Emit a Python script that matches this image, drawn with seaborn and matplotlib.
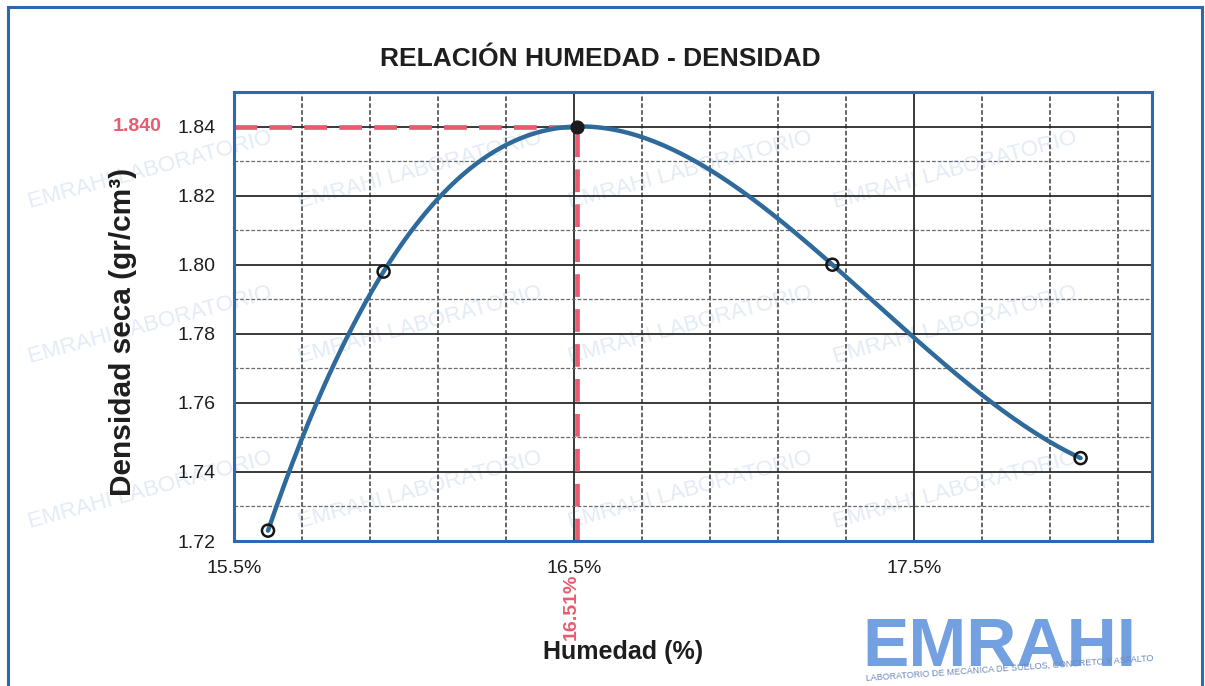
import numpy as np
import pandas as pd
import matplotlib
matplotlib.use("Agg")
import matplotlib.pyplot as plt
import seaborn as sns
from matplotlib.ticker import MultipleLocator, FixedLocator, FuncFormatter
from matplotlib.patches import Rectangle

# ---------------- data ----------------
humedad = [15.60, 15.94, 17.26, 17.99]          # %
densidad = [1.723, 1.798, 1.800, 1.744]         # gr/cm3
opt_humedad = 16.51                              # optimum moisture (%)
max_densidad = 1.840                             # max dry density
x_ticks = [15.5, 16.5, 17.5]
x_limits = [15.5, 18.2]
y_limits = [1.72, 1.85]

title = "RELACIÓN HUMEDAD - DENSIDAD"
x_label = "Humedad (%)"
y_label = "Densidad seca (gr/cm³)"
watermark = "EMRAHI LABORATORIO"

# ---------------- style ----------------
sns.set_theme(style="white")
plt.rcParams["font.family"] = ["Liberation Sans", "DejaVu Sans"]

BLUE_FRAME = "#2d68b3"
CURVE = "#2f6a9c"
RED = "#ea5a70"

fig = plt.figure(figsize=(12.05, 6.86), dpi=100)
fig.patch.set_facecolor("white")
ax = fig.add_axes([234 / 1205, 1 - 541 / 686, (1152 - 234) / 1205, (541 - 92) / 686])
ax.set_facecolor("none")

# faint watermark texts (behind the axes)
wm_rows = [170, 325, 490]
wm_cols = [150, 420, 690, 955]
for ry in wm_rows:
    for cx in wm_cols:
        fig.text(cx / 1205, 1 - ry / 686, watermark, rotation=15, ha="center", va="center",
                 fontsize=16, color="#e2ebf6", zorder=-5)

# outer frame
fig.add_artist(Rectangle((8 / 1205, -0.05), (1202 - 8) / 1205, 1 - 7 / 686 + 0.05,
                         transform=fig.transFigure, fill=False, edgecolor=BLUE_FRAME,
                         linewidth=2.2, clip_on=False))

# fitted curve (3rd order polynomial through the points)
coef = np.polyfit(humedad, densidad, 3)
xs = np.linspace(min(humedad), max(humedad), 400)
curve = pd.DataFrame({"x": xs, "y": np.polyval(coef, xs)})
sns.lineplot(data=curve, x="x", y="y", ax=ax, color=CURVE, linewidth=3.2, zorder=4)

# red dashed reference lines
ax.plot([x_limits[0], opt_humedad], [max_densidad, max_densidad], color=RED,
        linewidth=3.4, dashes=(4.8, 2.6), zorder=3, solid_capstyle="butt")
ax.plot([opt_humedad, opt_humedad], [y_limits[0], max_densidad], color=RED,
        linewidth=3.4, dashes=(4.8, 2.6), zorder=3)

# data points
pts = pd.DataFrame({"x": humedad, "y": densidad})
ax.scatter(pts["x"], pts["y"], s=75, facecolors="none", edgecolors="#151515",
           linewidths=1.8, zorder=5)
# optimum point
sns.scatterplot(x=[opt_humedad], y=[max_densidad], ax=ax, s=85, color="#1b1b1b",
                edgecolor="#1b1b1b", linewidth=1, zorder=6, legend=False)

# axes
ax.set_xlim(*x_limits)
ax.set_ylim(*y_limits)
ax.xaxis.set_major_locator(FixedLocator(x_ticks))
ax.xaxis.set_minor_locator(MultipleLocator(0.2, offset=0.1))
ax.yaxis.set_major_locator(MultipleLocator(0.02))
ax.yaxis.set_minor_locator(MultipleLocator(0.01))
ax.xaxis.set_major_formatter(FuncFormatter(lambda v, p: f"{v:.1f}%"))
ax.yaxis.set_major_formatter(FuncFormatter(lambda v, p: f"{v:.2f}"))

ax.grid(False)
ax.xaxis.grid(True, which="major", color="#2a2a2a", linewidth=1.3, linestyle="-")
ax.yaxis.grid(True, which="major", color="#2a2a2a", linewidth=1.3, linestyle="-")
ax.xaxis.grid(True, which="minor", color="#3a3a3a", linewidth=1.1, linestyle=(0, (3, 1.5)))
ax.yaxis.grid(True, which="minor", color="#6a6a6a", linewidth=0.9, linestyle=(0, (3, 1.5)))
ax.set_axisbelow(True)

ax.tick_params(axis="both", which="major", direction="out", length=5, width=1,
               color="#333333", labelsize=14, labelcolor="#1e1e1e")
ax.tick_params(axis="y", which="major", pad=8)
ax.tick_params(axis="x", which="major", pad=9)
ax.tick_params(which="minor", length=0)

for sp in ax.spines.values():
    sp.set_visible(True)
    sp.set_color(BLUE_FRAME)
    sp.set_linewidth(2.2)
    sp.set_zorder(7)

ax.set_xlabel(x_label, fontsize=18, fontweight="bold", color="#1e1e1e")
ax.set_ylabel(y_label, fontsize=21.5, fontweight="bold", color="#1e1e1e")
ax.xaxis.set_label_coords((623 - 234) / 918, (541 - 640) / 449)
ax.yaxis.set_label_coords((137 - 234) / 918, (541 - 332) / 449)

fig.text(600 / 1205, 1 - 59 / 686, title, ha="center", va="center", fontsize=19,
         fontweight="bold", color="#1e1e1e")

# red annotations
ax.annotate(f"{max_densidad:.3f}", xy=(0, max_densidad), xycoords=("axes fraction", "data"),
            xytext=(-52, 0), textcoords="offset points", ha="right", va="center",
            fontsize=14, fontweight="bold", color=RED)
ax.annotate(f"{opt_humedad:.2f}%", xy=(opt_humedad, 0), xycoords=("data", "axes fraction"),
            xytext=(-4.5, -47.5), textcoords="offset points", ha="center", va="center",
            rotation=90, fontsize=14, fontweight="bold", color=RED)

# lab stamp
fig.text(862 / 1205, 1 - 666 / 686, "EMRAHI", ha="left", va="baseline", fontsize=50,
         fontweight="heavy", color="#5b8fdc", alpha=0.85)
fig.text(865 / 1205, 1 - 681 / 686, "LABORATORIO DE MECÁNICA DE SUELOS, CONCRETO Y ASFALTO",
         ha="left", va="baseline", fontsize=6.5, color="#6d88bb", rotation=4)

fig.savefig("out.png", dpi=100)
